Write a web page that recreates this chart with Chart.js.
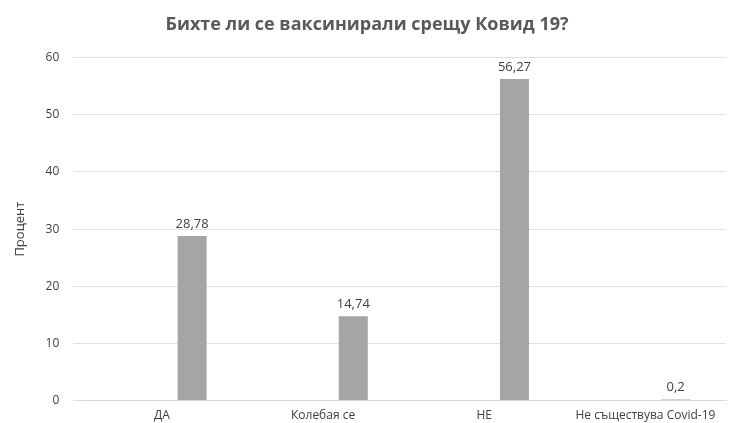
<!DOCTYPE html>
<html><head><meta charset="utf-8">
<script src="https://cdn.jsdelivr.net/npm/chart.js@4"></script>
<style>body{margin:0;background:#fff}#c{width:752px;height:423px}</style>
</head><body><div id="c"><canvas id="chart"></canvas></div>
<script>
const categories = ['ДА', 'Колебая се', 'НЕ', 'Не съществува Covid-19'];
const emptySeries = [null, null, null, null];
const percentValues = [28.78, 14.74, 56.27, 0.2];
const valueLabels = ['28,78', '14,74', '56,27', '0,2'];
const yTicks = [0, 10, 20, 30, 40, 50, 60];

const labelPlugin = {
  id: 'vals',
  afterDatasetsDraw(chart) {
    const ctx = chart.ctx;
    const meta = chart.getDatasetMeta(1);
    ctx.save();
    ctx.font = '13px "Open Sans"';
    ctx.fillStyle = '#404040';
    ctx.textAlign = 'center';
    meta.data.forEach((bar, i) => {
      ctx.fillText(valueLabels[i], bar.x, bar.y - 8);
    });
    ctx.restore();
  }
};

new Chart(document.getElementById('chart'), {
  type: 'bar',
  data: {
    labels: categories,
    datasets: [
      { data: emptySeries, backgroundColor: '#a5a5a5' },
      { data: percentValues, backgroundColor: '#a5a5a5' }
    ]
  },
  options: {
    responsive: true, maintainAspectRatio: false, animation: false,
    layout: { padding: { left: 8, right: 26, top: 10, bottom: 0 } },
    categoryPercentage: 0.75, barPercentage: 0.48,
    plugins: {
      legend: { display: false },
      tooltip: { enabled: false },
      title: { display: true, text: 'Бихте ли се ваксинирали срещу Ковид 19?',
        color: '#595959', font: { family: 'Open Sans', size: 18, weight: 'bold' },
        padding: { top: 4, bottom: 22 } }
    },
    scales: {
      x: { grid: { display: false }, border: { color: '#d9d9d9' },
        ticks: { color: '#404040', padding: 0, font: { family: 'Open Sans', size: 12 } } },
      y: { min: 0, max: 60,
        afterBuildTicks(s) { s.ticks = yTicks.map(v => ({ value: v })); },
        grid: { color: '#e0e0e0' }, border: { display: false },
        ticks: { color: '#404040', padding: 14, font: { family: 'Open Sans', size: 12 } },
        title: { display: true, text: 'Процент', color: '#404040',
          font: { family: 'Open Sans', size: 13 } } }
    }
  },
  plugins: [labelPlugin]
});
</script></body></html>
